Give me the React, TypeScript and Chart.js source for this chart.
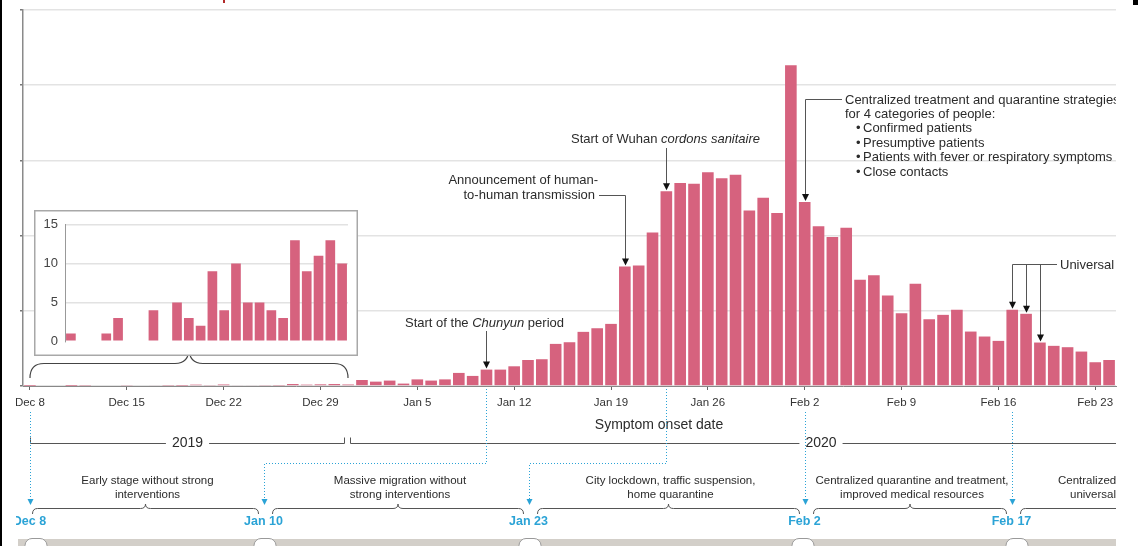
import React, { useEffect, useRef } from 'react';
import { Chart, registerables } from 'chart.js';
Chart.register(...registerables);

// ---------- data ----------
const dates = [
  'Dec 8', 'Dec 9', 'Dec 10', 'Dec 11', 'Dec 12', 'Dec 13', 'Dec 14', 'Dec 15', 'Dec 16', 'Dec 17',
  'Dec 18', 'Dec 19', 'Dec 20', 'Dec 21', 'Dec 22', 'Dec 23', 'Dec 24', 'Dec 25', 'Dec 26', 'Dec 27',
  'Dec 28', 'Dec 29', 'Dec 30', 'Dec 31',
  'Jan 1', 'Jan 2', 'Jan 3', 'Jan 4', 'Jan 5', 'Jan 6', 'Jan 7', 'Jan 8', 'Jan 9', 'Jan 10',
  'Jan 11', 'Jan 12', 'Jan 13', 'Jan 14', 'Jan 15', 'Jan 16', 'Jan 17', 'Jan 18', 'Jan 19', 'Jan 20',
  'Jan 21', 'Jan 22', 'Jan 23', 'Jan 24', 'Jan 25', 'Jan 26', 'Jan 27', 'Jan 28', 'Jan 29', 'Jan 30',
  'Jan 31',
  'Feb 1', 'Feb 2', 'Feb 3', 'Feb 4', 'Feb 5', 'Feb 6', 'Feb 7', 'Feb 8', 'Feb 9', 'Feb 10',
  'Feb 11', 'Feb 12', 'Feb 13', 'Feb 14', 'Feb 15', 'Feb 16', 'Feb 17', 'Feb 18', 'Feb 19', 'Feb 20',
  'Feb 21', 'Feb 22', 'Feb 23', 'Feb 24',
];

const decCases = [1, 0, 0, 1, 3, 0, 0, 4, 0, 5, 3, 2, 9, 4, 10, 5, 5, 4, 3, 13, 9, 11, 13, 10];
const janCases = [
  40, 29, 36, 16, 44, 36, 44, 87, 67, 109, 109, 131, 173, 178, 280, 291, 360, 384, 413, 795,
  802, 1020, 1295, 1349, 1345, 1422, 1382, 1404, 1167, 1251, 1151,
];
const febCases = [
  2133, 1224, 1062, 991, 1053, 707, 736, 602, 484, 680, 444, 473, 507, 362, 329, 300, 507, 480,
  289, 267, 258, 229, 158, 173,
];
const cases = [...decCases, ...janCases, ...febCases];

const weeklyTicks = ['Dec 8', 'Dec 15', 'Dec 22', 'Dec 29', 'Jan 5', 'Jan 12', 'Jan 19', 'Jan 26', 'Feb 2', 'Feb 9', 'Feb 16', 'Feb 23'];
const yMax = 2500;
const yStep = 500;

const insetDates = dates.slice(0, decCases.length);
const insetMax = 15;
const insetStep = 5;

// annotations
const chunyunDate = 'Jan 10';
const humanDate = 'Jan 20';
const cordonDate = 'Jan 23';
const centralDate = 'Feb 2';
const universalDates = ['Feb 17', 'Feb 18', 'Feb 19'];
const humanText = ['Announcement of human-', 'to-human transmission'];
const centralText = ['Centralized treatment and quarantine strategies', 'for 4 categories of people:'];
const centralBullets = ['Confirmed patients', 'Presumptive patients', 'Patients with fever or respiratory symptoms', 'Close contacts'];
const milestones = ['Dec 8', 'Jan 10', 'Jan 23', 'Feb 2', 'Feb 17'];
const phaseTexts = [
  ['Early stage without strong', 'interventions'],
  ['Massive migration without', 'strong interventions'],
  ['City lockdown, traffic suspension,', 'home quarantine'],
  ['Centralized quarantine and treatment,', 'improved medical resources'],
  ['Centralized quarantine and treatment,', 'universal symptom survey'],
];
const years = ['2019', '2020'];

// ---------- style ----------
const FAM = '"Liberation Sans", Arial, sans-serif';
const BAR = '#d6627e';
const BLUE = '#2ba3d6';
const INK = '#2b2b2b';
const LINE = '#555';

function font(size: number, style = '', weight = '') {
  return `${style} ${weight} ${size}px ${FAM}`.trim();
}

function rich(ctx: CanvasRenderingContext2D, segs: [string, boolean][], x: number, y: number, align: string, size: number, color: string) {
  ctx.textBaseline = 'middle';
  ctx.textAlign = 'left';
  ctx.fillStyle = color;
  let total = 0;
  const widths = segs.map(([t, it]) => {
    ctx.font = font(size, it ? 'italic' : '');
    const w = ctx.measureText(t).width;
    total += w;
    return w;
  });
  let cx = align === 'center' ? x - total / 2 : align === 'right' ? x - total : x;
  segs.forEach(([t, it], i) => {
    ctx.font = font(size, it ? 'italic' : '');
    ctx.fillText(t, cx, y);
    cx += widths[i];
  });
}

function arrowDown(ctx: CanvasRenderingContext2D, x: number, tip: number, color: string, w = 7, h = 7) {
  ctx.fillStyle = color;
  ctx.beginPath();
  ctx.moveTo(x - w / 2, tip - h);
  ctx.lineTo(x + w / 2, tip - h);
  ctx.lineTo(x, tip);
  ctx.closePath();
  ctx.fill();
}

function polyline(ctx: CanvasRenderingContext2D, pts: number[][], color: string, dash: number[] = []) {
  ctx.strokeStyle = color;
  ctx.lineWidth = 1;
  ctx.setLineDash(dash);
  ctx.beginPath();
  pts.forEach(([x, y], i) => (i ? ctx.lineTo(x, y) : ctx.moveTo(x, y)));
  ctx.stroke();
  ctx.setLineDash([]);
}

function brace(ctx: CanvasRenderingContext2D, x1: number, x2: number, yLine: number, yEnd: number, yPeak: number, r: number, color: string, lw = 1) {
  const xm = (x1 + x2) / 2;
  ctx.strokeStyle = color;
  ctx.lineWidth = lw;
  ctx.beginPath();
  ctx.moveTo(x1, yEnd);
  ctx.quadraticCurveTo(x1, yLine, x1 + r, yLine);
  ctx.lineTo(xm - r, yLine);
  ctx.quadraticCurveTo(xm, yLine, xm, yPeak);
  ctx.quadraticCurveTo(xm, yLine, xm + r, yLine);
  ctx.lineTo(x2 - r, yLine);
  ctx.quadraticCurveTo(x2, yLine, x2, yEnd);
  ctx.stroke();
}

const overlay = {
  id: 'overlay',
  afterDraw(chart: any) {
    const ctx: CanvasRenderingContext2D = chart.ctx;
    const xs = chart.scales.x;
    const ys = chart.scales.y;
    const X = (d: string) => xs.getPixelForValue(dates.indexOf(d));
    const TOP = (d: string) => ys.getPixelForValue(cases[dates.indexOf(d)]);
    const right = chart.chartArea.right;

    ctx.save();
    ctx.beginPath();
    ctx.rect(0, 0, right, chart.height);
    ctx.clip();

    // Chunyun
    {
      const x = Math.round(X(chunyunDate)) + 0.5;
      const t = TOP(chunyunDate);
      rich(ctx, [['Start of the ', false], ['Chunyun', true], [' period', false]], x - 2, 323, 'center', 13, INK);
      polyline(ctx, [[x, 331], [x, t - 5]], LINE);
      arrowDown(ctx, x, t - 1, '#111');
    }
    // human-to-human
    {
      const x = Math.round(X(humanDate)) + 0.5;
      const t = TOP(humanDate);
      ctx.font = font(13);
      ctx.fillStyle = INK;
      ctx.textAlign = 'right';
      ctx.textBaseline = 'middle';
      ctx.fillText(humanText[0], 598, 180);
      ctx.fillText(humanText[1], 595, 195);
      polyline(ctx, [[599, 195.5], [x, 195.5], [x, t - 5]], LINE);
      arrowDown(ctx, x, t - 1, '#111');
    }
    // cordons sanitaire
    {
      const x = Math.round(X(cordonDate)) + 0.5;
      const t = TOP(cordonDate);
      rich(ctx, [['Start of Wuhan ', false], ['cordons sanitaire', true]], x - 1, 139, 'center', 13, INK);
      polyline(ctx, [[x, 148], [x, t - 5]], LINE);
      arrowDown(ctx, x, t - 1, '#111');
    }
    // centralized
    {
      const x = Math.round(X(centralDate)) + 0.5;
      const t = TOP(centralDate);
      polyline(ctx, [[842, 99.5], [x, 99.5], [x, t - 5]], LINE);
      arrowDown(ctx, x, t - 1, '#111');
      ctx.font = font(13);
      ctx.fillStyle = INK;
      ctx.textAlign = 'left';
      ctx.textBaseline = 'middle';
      ctx.fillText(centralText[0], 845, 100);
      ctx.fillText(centralText[1], 845, 114);
      centralBullets.forEach((b, i) => {
        ctx.fillText('\u2022', 856, 128.5 + i * 14.6);
        ctx.fillText(b, 863, 128.5 + i * 14.6);
      });
    }
    // universal
    {
      const xsU = universalDates.map((d) => Math.round(X(d)) + 0.5);
      polyline(ctx, [[xsU[0], 264.5], [1057, 264.5]], LINE);
      universalDates.forEach((d, i) => {
        const t = TOP(d);
        polyline(ctx, [[xsU[i], 264.5], [xsU[i], t - 5]], LINE);
        arrowDown(ctx, xsU[i], t - 1, '#111');
      });
      ctx.font = font(13);
      ctx.fillStyle = INK;
      ctx.textAlign = 'left';
      ctx.textBaseline = 'middle';
      ctx.fillText('Universal symptom survey', 1060, 265);
    }

    // brace under inset
    brace(ctx, 30, 348, 363.5, 378, 348, 14, '#444', 1.2);

    // axis title
    ctx.font = font(14);
    ctx.fillStyle = INK;
    ctx.textAlign = 'center';
    ctx.textBaseline = 'middle';
    ctx.fillText('Symptom onset date', 659, 425);

    // year brackets
    {
      const yY = 443.5;
      const a0 = Math.round(X('Dec 8')) + 0.5;
      const a1 = Math.round(X('Dec 31')) - 3.5;
      const b0 = Math.round(X('Dec 31')) + 2.5;
      const b1 = right + 2;
      ctx.font = font(14);
      const drawYear = (x0: number, x1: number, cx: number, txt: string) => {
        const w = ctx.measureText(txt).width / 2 + 6;
        polyline(ctx, [[x0, yY - 6], [x0, yY], [cx - w, yY]], LINE);
        polyline(ctx, [[cx + w, yY], [x1, yY], [x1, yY - 6]], LINE);
        ctx.fillStyle = INK;
        ctx.fillText(txt, cx, yY);
      };
      drawYear(a0, a1, (a0 + a1) / 2, years[0]);
      drawYear(b0, b1 + 400, 821, years[1]);
    }

    // timeline milestones
    const mX = [X(milestones[0]), 264, 529, X(milestones[3]), X(milestones[4])].map((v) => Math.round(v) + 0.5);
    const routed = [false, true, true, false, false];
    const hY = 463.5;
    const tip = 505;
    milestones.forEach((m, i) => {
      const bx = Math.round(X(m)) + 0.5;
      if (routed[i]) {
        polyline(ctx, [[bx, 389], [bx, hY], [mX[i], hY], [mX[i], tip - 5]], BLUE, [1, 2]);
      } else {
        polyline(ctx, [[mX[i], 412], [mX[i], tip - 5]], BLUE, [1, 2]);
      }
      arrowDown(ctx, mX[i], tip, BLUE, 6, 6);
      ctx.font = font(12.5, '', 'bold');
      ctx.fillStyle = BLUE;
      ctx.textAlign = 'center';
      ctx.textBaseline = 'middle';
      ctx.fillText(m, mX[i] - 1, 522);
    });

    // phases
    phaseTexts.forEach((lines, i) => {
      const s = mX[i] + (i === 0 ? 2 : 8);
      const e = i + 1 < mX.length ? mX[i + 1] - 6 : right + 200;
      brace(ctx, s, e, 508.5, 514, 504, 5, '#555', 1);
      ctx.font = font(11.5);
      ctx.fillStyle = INK;
      ctx.textBaseline = 'middle';
      if (i + 1 < mX.length) {
        ctx.textAlign = 'center';
        const c = (s + e) / 2 + 2;
        ctx.fillText(lines[0], c, 481);
        ctx.fillText(lines[1], c, 495);
      } else {
        ctx.textAlign = 'left';
        ctx.fillText(lines[0], 1058, 481);
        ctx.fillText(lines[1], 1070, 495);
      }
    });

    // bottom band with pills
    ctx.fillStyle = '#d3cfc9';
    ctx.fillRect(18, 539, right - 18, 7);
    [36, 265, 530, 803, 1017].forEach((px) => {
      ctx.fillStyle = '#fff';
      ctx.strokeStyle = '#9a9a9a';
      ctx.lineWidth = 1;
      ctx.beginPath();
      ctx.roundRect(px - 11, 538.5, 22, 14, 7);
      ctx.fill();
      ctx.stroke();
    });
    ctx.restore();

    // crop artefacts of the original figure
    ctx.fillStyle = '#fff';
    ctx.fillRect(2, 392, 14, 140);
    ctx.fillStyle = '#000';
    ctx.fillRect(0, 0, 2, chart.height);
    ctx.fillRect(1133, 0, 5, 5);
    ctx.fillStyle = '#b22a2a';
    ctx.fillRect(223, 0, 2, 3);
  },
};

const insetFrame = {
  id: 'insetFrame',
  beforeDraw(chart: any) {
    const ctx = chart.ctx;
    ctx.save();
    ctx.fillStyle = '#fff';
    ctx.fillRect(0, 0, chart.width, chart.height);
    ctx.restore();
  },
  afterDraw(chart: any) {
    const ctx = chart.ctx;
    ctx.save();
    ctx.strokeStyle = '#a8a8a8';
    ctx.lineWidth = 1.5;
    ctx.strokeRect(0.75, 0.75, chart.width - 1.5, chart.height - 1.5);
    ctx.restore();
  },
};

export default function App() {
  const mainRef = useRef<HTMLCanvasElement>(null);
  const insetRef = useRef<HTMLCanvasElement>(null);

  useEffect(() => {
    const main = new Chart(mainRef.current as HTMLCanvasElement, {
      type: 'bar',
      data: {
        labels: dates,
        datasets: [{ data: cases, backgroundColor: BAR, barPercentage: 0.84, categoryPercentage: 1 }],
      },
      options: {
        responsive: false,
        animation: false,
        devicePixelRatio: 1,
        layout: { padding: { top: 10, right: 22, left: 0, bottom: 0 } },
        plugins: { legend: { display: false }, tooltip: { enabled: false } },
        scales: {
          x: {
            type: 'category',
            offset: true,
            afterFit: (s: any) => {
              s.height = 160;
            },
            border: { color: '#888', width: 1 },
            grid: {
              offset: false,
              drawOnChartArea: false,
              drawTicks: true,
              tickLength: 4,
              color: (c: any) => (weeklyTicks.includes(dates[c.index]) ? '#666' : 'rgba(0,0,0,0)'),
            },
            ticks: {
              autoSkip: false,
              maxRotation: 0,
              minRotation: 0,
              padding: 6,
              color: '#333',
              font: { family: FAM, size: 11.5 },
              callback: (v: any, i: number) => (weeklyTicks.includes(dates[i]) ? dates[i] : ''),
            },
          },
          y: {
            min: 0,
            max: yMax,
            afterFit: (s: any) => {
              s.width = 23;
            },
            border: { color: '#8a8a8a', width: 1.5 },
            grid: { color: '#e3e3e3', lineWidth: 1.6, drawTicks: true, tickLength: 3, tickColor: '#777' },
            ticks: { display: false, stepSize: yStep },
          },
        },
      },
      plugins: [overlay],
    } as any);

    const inset = new Chart(insetRef.current as HTMLCanvasElement, {
      type: 'bar',
      data: {
        labels: insetDates,
        datasets: [{ data: decCases, backgroundColor: BAR, barPercentage: 0.82, categoryPercentage: 1 }],
      },
      options: {
        responsive: false,
        animation: false,
        devicePixelRatio: 1,
        layout: { padding: { top: 14, right: 10, left: 0, bottom: 14 } },
        plugins: { legend: { display: false }, tooltip: { enabled: false } },
        scales: {
          x: { display: false, offset: true },
          y: {
            min: 0,
            max: insetMax,
            afterFit: (s: any) => {
              s.width = 31;
            },
            border: { color: '#999', width: 1 },
            grid: {
              drawTicks: false,
              color: (c: any) => (c.tick && c.tick.value === 0 ? 'rgba(0,0,0,0)' : '#e2e2e2'),
              lineWidth: 1.4,
            },
            ticks: { stepSize: insetStep, padding: 7, color: '#444', font: { family: FAM, size: 13 } },
          },
        },
      },
      plugins: [insetFrame],
    } as any);

    return () => {
      main.destroy();
      inset.destroy();
    };
  }, []);

  return (
    <div style={{ position: 'absolute', left: 0, top: 0, width: 1138, height: 546, background: '#fff', overflow: 'hidden' }}>
      <canvas ref={mainRef} width={1138} height={546} style={{ position: 'absolute', left: 0, top: 0 }} />
      <canvas ref={insetRef} width={324} height={146} style={{ position: 'absolute', left: 34, top: 210 }} />
    </div>
  );
}
